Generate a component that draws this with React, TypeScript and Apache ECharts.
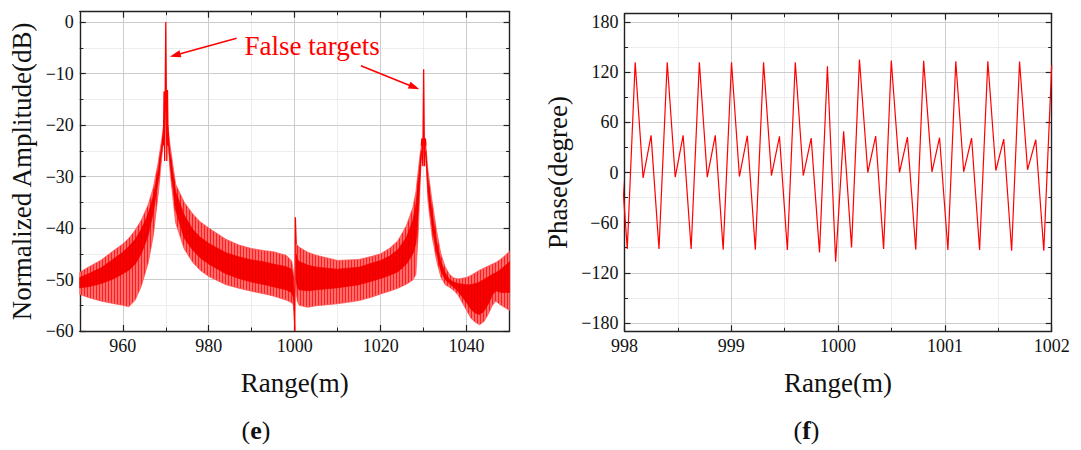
import React, { useEffect, useRef } from "react";
import * as echarts from "echarts";

// ---------- data: normalized amplitude (band envelopes) ----------
// segment A: 950 m .. left of 970 m peak
const segAX = [950, 952, 955, 958, 960, 961.4, 962.9, 964.3, 965.9, 967.1, 968.3, 969.1, 969.5];
const segAHi = [-48.6, -47.6, -46.2, -44.3, -43.1, -42.0, -40.4, -38.5, -35.5, -32.2, -27.0, -22.5, -20];
const segALo = [-52.9, -53.5, -54.2, -54.7, -55.0, -55.3, -54.0, -51.3, -46.8, -41.5, -33.0, -26.0, -23];
const segAInHi = [-49.6, -48.9, -47.7, -45.9, -44.7, -43.6, -42.2, -40.3, -37.3, -33.8, -28.4, -23.8, -21];
const segAInLo = [-51.6, -51.4, -50.8, -49.8, -48.9, -48.2, -47.0, -45.0, -41.5, -37.0, -30.5, -24.8, -22];
// segment B: right of 970 m peak .. 1000 m
const segBX = [970.5, 971, 972.3, 974.3, 976.3, 978, 980, 984, 987, 990, 993, 995, 998, 999.3, 999.7, 999.9, 1000];
const segBHi = [-20, -24, -31.5, -35, -37.3, -38.8, -40, -42.2, -43.3, -44, -44.4, -44.6, -45.3, -46.4, -48.4, -52, -60];
const segBLo = [-23, -29, -39, -44.1, -46.7, -48.2, -49.4, -51, -51.7, -52.3, -52.8, -53.2, -54, -54.5, -55, -57, -60];
const segBInHi = [-21, -25.5, -33, -37.5, -40.3, -41.8, -43, -44.8, -45.6, -46.2, -46.6, -47, -47.5, -48, -49.5, -53, -60];
const segBInLo = [-22, -27.5, -36.5, -42, -44.3, -45.8, -47, -48.9, -49.8, -50.5, -51, -51.4, -52, -52.5, -53.5, -56, -60];
// segment C: 1000 m .. left of 1030 m peak
const segCX = [1000.3, 1000.6, 1001, 1003, 1005, 1010, 1015, 1018, 1020, 1022, 1024, 1026, 1027.5, 1028.2, 1028.8, 1029.2, 1029.5];
const segCHi = [-42.8, -43.3, -43.7, -44.7, -45.3, -46.3, -46.1, -45.5, -45, -44, -42.5, -39.5, -36, -33, -28.5, -25.5, -24];
const segCLo = [-52, -54.2, -55, -55.4, -55.1, -54.7, -54.1, -53.4, -52.8, -52.3, -51.7, -50.9, -50.1, -49, -40, -31, -26];
const segCInHi = [-45, -46, -46.5, -47.2, -47.6, -48, -47.6, -46.8, -46.3, -45.5, -44.2, -41.8, -38.5, -35.5, -30.5, -27, -25];
const segCInLo = [-50, -51.5, -52, -52.2, -52, -51.6, -51, -50.3, -49.8, -49.2, -48.5, -47, -45, -43, -36, -29.5, -25.5];
// segment D: right of 1030 m peak .. 1050 m
const segDX = [1030.5, 1031, 1032, 1033, 1034, 1035, 1036, 1037, 1038, 1040, 1041, 1042, 1043, 1044, 1045, 1046, 1046.8, 1048, 1049, 1050];
const segDHi = [-24, -28.8, -35, -40.5, -45, -47.5, -49, -49.7, -49.9, -49.6, -49.2, -48.7, -48.2, -47.8, -47.4, -47, -46.7, -46, -45.3, -44.5];
const segDLo = [-26, -34.7, -41.8, -46.3, -49.5, -51, -51.5, -52.1, -53, -56, -57.5, -58.3, -58.8, -58.2, -56.8, -55, -54.2, -55, -55.5, -56];
const segDInHi = [-25, -30.5, -37, -42.5, -46.5, -48.7, -50, -50.5, -50.8, -51, -51, -50.8, -50.5, -50, -49.5, -49, -48.7, -48, -47.3, -46.5];
const segDInLo = [-25.5, -33, -40, -44.8, -48.3, -50, -50.8, -51.5, -52.3, -54.5, -55.8, -56.5, -56.8, -56.2, -54.8, -53, -52.2, -52.5, -52.5, -52.5];
// narrow peaks
const spike970X = [969.45, 969.6, 969.75, 970, 970.25, 970.4, 970.55];
const spike970Y = [-24, -13.5, -27, 0, -27, -13.2, -24];
const spike1000X = [999.9, 1000, 1000.1, 1000.15, 1000.35];
const spike1000Y = [-55, -60, -48, -37.9, -43];
const spike1030X = [1029.45, 1029.6, 1029.8, 1030, 1030.2, 1030.4, 1030.55];
const spike1030Y = [-24, -22.6, -28, -9.2, -28, -22.6, -24];

// ---------- data: phase ----------
const phaseX = [997.951, 998.026, 998.1, 998.174, 998.249, 998.323, 998.4, 998.475, 998.549, 998.624, 998.701, 998.775, 998.85, 998.924, 999.002, 999.076, 999.15, 999.225, 999.302, 999.376, 999.451, 999.525, 999.599, 999.674, 999.748, 999.826, 999.9, 999.977, 1000.052, 1000.126, 1000.2, 1000.278, 1000.352, 1000.426, 1000.498, 1000.575, 1000.649, 1000.727, 1000.801, 1000.879, 1000.95, 1001.028, 1001.102, 1001.176, 1001.25, 1001.325, 1001.402, 1001.477, 1001.551, 1001.625, 1001.699, 1001.774, 1001.851, 1001.926, 1002.0];
const phaseY = [44, -91.6, 132, -6.4, 44.4, -91.6, 132, -5.6, 44.4, -91.6, 132, -5.6, 44.4, -92.4, 132, -4.8, 44, -92.4, 132, -3.6, 43.2, -92.8, 132, -3.6, 41.2, -95.6, 127.2, -106.8, 49.2, -89.6, 135.2, 0, 43.6, -91.6, 134, 0, 42.4, -92.4, 133.6, 0.8, 41.6, -92.8, 133.2, 0.8, 41.2, -92.8, 133.2, 2.4, 40, -93.6, 132.8, 3.2, 39.2, -93.6, 128.4];

// ---------- tick labels ----------
const ampXTicks = [960, 980, 1000, 1020, 1040];
const ampYTicks = [-60, -50, -40, -30, -20, -10, 0];
const phaseXTicks = [998, 999, 1000, 1001, 1002];
const phaseYTicks = [-180, -120, -60, 0, 60, 120, 180];

// ---------- layout ----------
const SERIF = "Liberation Serif";
const RED = "#ff0000";
const AX = "#222222";

const AMP_X = [950, 1050];
const AMP_Y = [-60, 2];
const L1 = 79.8, T1 = 11.7, W1 = 429.8, H1 = 319.3;
const PX1 = W1 / (AMP_X[1] - AMP_X[0]);
const PY1 = H1 / (AMP_Y[1] - AMP_Y[0]);

const PH_X = [998, 1002];
const PH_Y = [-190, 190];
const L2 = 624.5, T2 = 13.7, W2 = 427.2, H2 = 317.6;
const PY2 = H2 / (PH_Y[1] - PH_Y[0]);

const minusFmt = (v: number) => String(v).replace("-", "\u2212");
const nameStyle = { fontFamily: SERIF, fontSize: 27, color: "#111" };
const labelText = { fontFamily: SERIF, fontSize: 18, color: "#111", fontWeight: "normal" };

const THEME = {
  textStyle: { fontFamily: SERIF },
  valueAxis: { axisLabel: { fontFamily: SERIF }, nameTextStyle: { fontFamily: SERIF } },
};

function frameAxis(extra: any) {
  return {
    type: "value",
    axisLine: { show: true, onZero: false, lineStyle: { color: AX, width: 1.4 } },
    axisTick: { show: false },
    axisLabel: { show: false },
    splitLine: { show: false },
    ...extra,
  };
}

function tickAxis(ticks: number[], withLabels: boolean, withGrid: boolean, extra: any) {
  return {
    type: "value",
    min: ticks[0],
    max: ticks[ticks.length - 1],
    interval: ticks[1] - ticks[0],
    axisLine: { show: false },
    axisTick: { show: true, inside: true, length: 6, lineStyle: { color: AX, width: 1.2 } },
    minorTick: { show: true, splitNumber: 2, length: 3.5, lineStyle: { color: AX, width: 1 } },
    axisLabel: withLabels
      ? {
          show: true,
          ...labelText,
          textStyle: labelText,
          margin: 6,
          formatter: (v: number) => "{t|" + minusFmt(v) + "}",
          rich: { t: labelText },
          showMinLabel: true,
          showMaxLabel: true,
        }
      : { show: false },
    splitLine: { show: withGrid, lineStyle: { color: "#cccccc", width: 1 } },
    minorSplitLine: { show: withGrid, lineStyle: { color: "#d2d2d2", width: 0.8, type: "dotted" } },
    ...extra,
  };
}

const dummy = (gridIndex: number) => ({ type: "value", gridIndex, show: false, min: 0, max: 1 });

const bandSegments = [
  { x: segAX, hi: segAHi, lo: segALo, inHi: segAInHi, inLo: segAInLo },
  { x: segBX, hi: segBHi, lo: segBLo, inHi: segBInHi, inLo: segBInLo },
  { x: segCX, hi: segCHi, lo: segCLo, inHi: segCInHi, inLo: segCInLo },
  { x: segDX, hi: segDHi, lo: segDLo, inHi: segDInHi, inLo: segDInLo },
];

function stripePattern(light: string, dark: string): any {
  try {
    const c = document.createElement("canvas");
    c.width = 3;
    c.height = 4;
    const ctx = c.getContext("2d");
    if (!ctx) return light;
    ctx.fillStyle = light;
    ctx.fillRect(0, 0, 3, 4);
    ctx.fillStyle = dark;
    ctx.fillRect(0, 0, 1, 4);
    return { image: c.toDataURL(), repeat: "repeat" };
  } catch (e) {
    return light;
  }
}

function bandSeries(inner: boolean, fill: any, edge: string, z: number) {
  return {
    type: "custom",
    xAxisIndex: 0,
    yAxisIndex: 0,
    z,
    silent: true,
    data: bandSegments.map((s) => [s.x[0], s.hi[0]]),
    renderItem: (params: any, api: any) => {
      const s = bandSegments[params.dataIndex];
      const hi = inner ? s.inHi : s.hi;
      const lo = inner ? s.inLo : s.lo;
      const top = s.x.map((x, i) => api.coord([x, hi[i]]));
      const bot = s.x.map((x, i) => api.coord([x, lo[i]])).reverse();
      return {
        type: "polygon",
        shape: { points: top.concat(bot) },
        style: { fill, stroke: edge, lineWidth: 0.7 },
      };
    },
  };
}

function spikeSeries(xs: number[], ys: number[]) {
  return {
    type: "line",
    xAxisIndex: 0,
    yAxisIndex: 0,
    z: 5,
    silent: true,
    symbol: "none",
    lineStyle: { color: RED, width: 1.3 },
    data: xs.map((x, i) => [x, ys[i]]),
  };
}

function arrow(x1: number, y1: number, x2: number, y2: number) {
  const dx = x2 - x1, dy = y2 - y1;
  const len = Math.hypot(dx, dy);
  const ux = dx / len, uy = dy / len;
  const hl = 11, hw = 3.6;
  const bx = x2 - ux * hl, by = y2 - uy * hl;
  return [
    { type: "line", z: 100, shape: { x1, y1, x2: bx + ux * 2, y2: by + uy * 2 }, style: { stroke: RED, lineWidth: 1.5 } },
    {
      type: "polygon",
      z: 100,
      shape: { points: [[x2, y2], [bx - uy * hw, by + ux * hw], [bx + uy * hw, by - ux * hw]] },
      style: { fill: RED },
    },
  ];
}

function panelLabel(letter: string, x: number) {
  return {
    type: "text", z: 100, x, y: 430,
    style: {
      text: "{a|(}{b|" + letter + "}{a|)}",
      align: "center", verticalAlign: "middle",
      rich: {
        a: { fontFamily: SERIF, fontSize: 26, fill: "#111" },
        b: { fontFamily: SERIF, fontSize: 26, fontWeight: "bold", fill: "#111" },
      },
    },
  };
}

function buildOption() {
  const outerFill = stripePattern("#ff6a6a", "#ff1e1e");
  const innerFill = stripePattern("#fa0000", "#e80000");
  return {
    animation: false,
    backgroundColor: "#ffffff",
    textStyle: { fontFamily: SERIF },
    grid: [
      { left: L1, top: T1, width: W1, height: H1 },
      { left: L1 + (ampXTicks[0] - AMP_X[0]) * PX1, top: T1, width: (ampXTicks[ampXTicks.length - 1] - ampXTicks[0]) * PX1, height: H1 },
      { left: L1, top: T1 + (AMP_Y[1] - ampYTicks[ampYTicks.length - 1]) * PY1, width: W1, height: (ampYTicks[ampYTicks.length - 1] - ampYTicks[0]) * PY1 },
      { left: L2, top: T2, width: W2, height: H2 },
      { left: L2, top: T2 + (PH_Y[1] - phaseYTicks[phaseYTicks.length - 1]) * PY2, width: W2, height: (phaseYTicks[phaseYTicks.length - 1] - phaseYTicks[0]) * PY2 },
    ],
    xAxis: [
      frameAxis({
        gridIndex: 0, position: "bottom", min: AMP_X[0], max: AMP_X[1],
        name: "Range(m)", nameLocation: "middle", nameGap: 38, nameTextStyle: nameStyle,
      }),
      frameAxis({ gridIndex: 0, position: "top", min: AMP_X[0], max: AMP_X[1] }),
      tickAxis(ampXTicks, true, true, { gridIndex: 1, position: "bottom" }),
      tickAxis(ampXTicks, false, false, { gridIndex: 1, position: "top" }),
      dummy(2),
      {
        ...tickAxis(phaseXTicks, true, true, {
          gridIndex: 3, position: "bottom",
          name: "Range(m)", nameLocation: "middle", nameGap: 38, nameTextStyle: nameStyle,
        }),
        axisLine: { show: true, onZero: false, lineStyle: { color: AX, width: 1.4 } },
      },
      {
        ...tickAxis(phaseXTicks, false, false, { gridIndex: 3, position: "top" }),
        axisLine: { show: true, onZero: false, lineStyle: { color: AX, width: 1.4 } },
      },
      dummy(4),
    ],
    yAxis: [
      frameAxis({
        gridIndex: 0, position: "left", min: AMP_Y[0], max: AMP_Y[1],
        name: "Normalized Amplitude(dB)", nameLocation: "middle", nameGap: 44, nameTextStyle: nameStyle,
      }),
      frameAxis({ gridIndex: 0, position: "right", min: AMP_Y[0], max: AMP_Y[1] }),
      dummy(1),
      tickAxis(ampYTicks, true, true, { gridIndex: 2, position: "left" }),
      tickAxis(ampYTicks, false, false, { gridIndex: 2, position: "right" }),
      frameAxis({
        gridIndex: 3, position: "left", min: PH_Y[0], max: PH_Y[1],
        name: "Phase(degree)", nameLocation: "middle", nameGap: 53, nameTextStyle: nameStyle,
      }),
      frameAxis({ gridIndex: 3, position: "right", min: PH_Y[0], max: PH_Y[1] }),
      tickAxis(phaseYTicks, true, true, { gridIndex: 4, position: "left" }),
      tickAxis(phaseYTicks, false, false, { gridIndex: 4, position: "right" }),
    ],
    series: [
      bandSeries(false, outerFill, "#ff4a4a", 3),
      bandSeries(true, innerFill, "#f20000", 4),
      spikeSeries(spike970X, spike970Y),
      spikeSeries(spike1000X, spike1000Y),
      spikeSeries(spike1030X, spike1030Y),
      {
        type: "line",
        xAxisIndex: 5,
        yAxisIndex: 5,
        z: 5,
        silent: true,
        symbol: "none",
        clip: true,
        lineStyle: { color: RED, width: 1.2 },
        data: phaseX.map((x, i) => [x, phaseY[i]]),
      },
    ],
    graphic: [
      {
        type: "text", z: 100, x: 244.5, y: 46,
        style: { text: "False targets", fontFamily: SERIF, fontSize: 27, fill: RED, align: "left", verticalAlign: "middle" },
      },
      ...arrow(236.6, 38.3, 169.8, 56.7),
      ...arrow(360.9, 65.7, 419.4, 89.3),
      panelLabel("e", 256),
      panelLabel("f", 806.5),
    ],
  };
}

export default function App() {
  const ref = useRef<HTMLDivElement>(null);
  useEffect(() => {
    if (!ref.current) return;
    const chart = echarts.init(ref.current, THEME as any, { renderer: "svg" });
    chart.setOption(buildOption() as any);
    return () => chart.dispose();
  }, []);
  return (
    <div
      ref={ref}
      style={{ position: "absolute", left: 0, top: 0, width: 1081, height: 450, background: "#fff" }}
    />
  );
}
